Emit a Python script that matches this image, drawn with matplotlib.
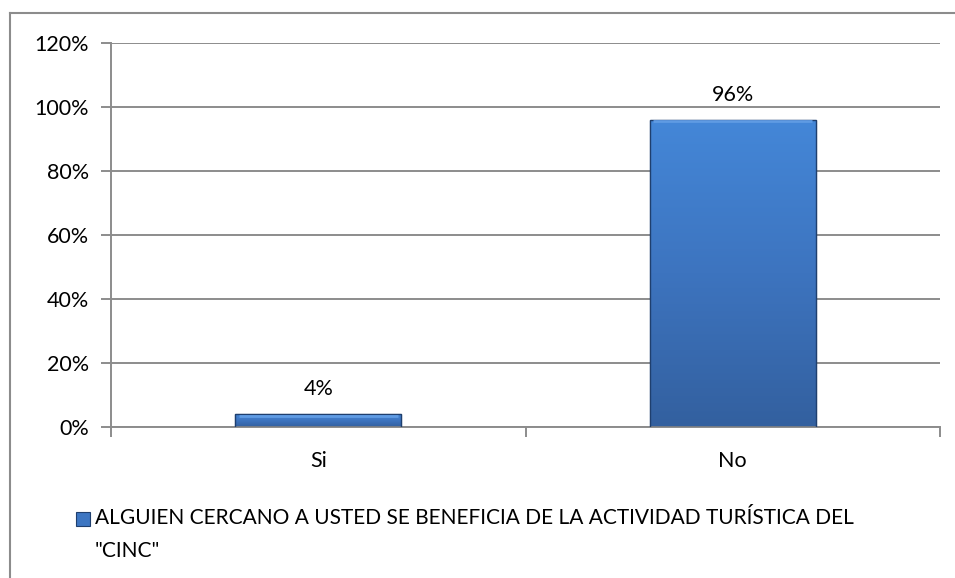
import numpy as np
import matplotlib.pyplot as plt
from matplotlib.patches import Rectangle
from matplotlib.lines import Line2D
from matplotlib.ticker import FixedLocator
from matplotlib.colors import LinearSegmentedColormap

# Datos del gráfico
categorias = ['Si', 'No']
valores = [0.04, 0.96]
etiquetas = ['4%', '96%']
yticks = [0, 0.2, 0.4, 0.6, 0.8, 1.0, 1.2]
yticklabels = ['0%', '20%', '40%', '60%', '80%', '100%', '120%']
leyenda = 'ALGUIEN CERCANO A USTED SE BENEFICIA DE LA ACTIVIDAD TURÍSTICA DEL\n"CINC"'

plt.rcParams['font.family'] = ['Lato', 'DejaVu Sans']

W, H = 955, 578
fig = plt.figure(figsize=(W / 100, H / 100), dpi=100)

# Marco del área del gráfico (sólo se ve arriba y a la izquierda)
fig.add_artist(Line2D([10 / W, 10 / W], [0, 1 - 13 / H], color='#8c8c8c', lw=1.5,
                      transform=fig.transFigure))
fig.add_artist(Line2D([10 / W, 1], [1 - 13 / H, 1 - 13 / H], color='#8c8c8c', lw=1.5,
                      transform=fig.transFigure))

ax = fig.add_axes([111 / W, 1 - 427 / H, (940 - 111) / W, (427 - 43) / H])
x = np.arange(len(categorias))

ax.yaxis.set_major_locator(FixedLocator(yticks))
ax.set_yticklabels(yticklabels, fontsize=15.5)
ax.yaxis.grid(True, color='#8c8c8c', lw=1.4)
ax.set_axisbelow(True)

ax.xaxis.set_major_locator(FixedLocator(x))
ax.set_xticklabels(categorias, fontsize=15.5)
ax.xaxis.set_minor_locator(FixedLocator([-0.5, 0.5, 1.5]))
ax.tick_params(axis='x', which='major', length=0, pad=17)
ax.tick_params(axis='x', which='minor', length=7, color='#8c8c8c', width=1.4)
ax.tick_params(axis='y', length=7, color='#8c8c8c', width=1.4, pad=9)

for s in ['top', 'right']:
    ax.spines[s].set_visible(False)
for s in ['left', 'bottom']:
    ax.spines[s].set_color('#8c8c8c')
    ax.spines[s].set_linewidth(1.4)

barras = ax.bar(x, valores, width=0.40, color='#3d76c2', edgecolor='#1f3f6e', lw=0.8, zorder=2)

# Degradado vertical dentro de cada barra
grad = np.linspace(0, 1, 256).reshape(-1, 1)
cmap = LinearSegmentedColormap.from_list('azul', ['#33609f', '#3d74bf', '#4487d8'])
for b in barras:
    x0, y0, w, h = b.get_x(), b.get_y(), b.get_width(), b.get_height()
    im = ax.imshow(grad, extent=[x0, x0 + w, y0, y0 + h], origin='lower', cmap=cmap,
                   aspect='auto', zorder=2.5)
    im.set_clip_path(b)
    # borde con efecto biselado
    ax.add_patch(Rectangle((x0, y0), w, h, fill=False, edgecolor='#1f3f6e', lw=1.0, zorder=3))
    ax.plot([x0 + w * 0.02, x0 + w * 0.98], [y0 + h - 0.005, y0 + h - 0.005],
            color='#5f9be3', lw=2, zorder=3, solid_capstyle='butt')

for xi, v, t in zip(x, valores, etiquetas):
    ax.annotate(t, (xi, v), xytext=(0, 13.5), textcoords='offset points',
                ha='center', va='baseline', fontsize=15.5)

ax.set_xlim(-0.5, len(categorias) - 0.5)
ax.set_ylim(0, 1.2)

# Leyenda
fig.add_artist(Rectangle((76 / W, 1 - 526 / H), 14 / W, 14 / H, facecolor='#3d76c2',
                         edgecolor='#1f3f6e', lw=0.8, transform=fig.transFigure))
fig.text(95 / W, 1 - 508 / H, leyenda, fontsize=15, va='top', ha='left',
         linespacing=1.8)

fig.savefig('out.png', dpi=100)
